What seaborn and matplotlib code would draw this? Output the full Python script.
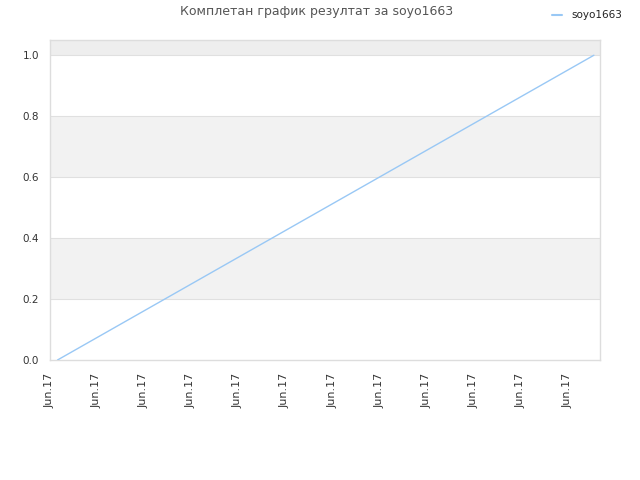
import numpy as np
import pandas as pd
import matplotlib
matplotlib.use("Agg")
import matplotlib.pyplot as plt
import seaborn as sns

# data
player = "soyo1663"
time_pos = [0.16, 11.57]          # position along the time axis (tick units)
progress = [0.0, 1.0]             # completed fraction
tick_pos = list(range(12))
tick_labels = ["Jun.17"] * 12
y_ticks = [0.0, 0.2, 0.4, 0.6, 0.8, 1.0]

df = pd.DataFrame({"t": time_pos, "value": progress, "name": player})

sns.set_style("white")
plt.rcParams["font.family"] = ["DejaVu Sans"]

fig = plt.figure(figsize=(6.4, 4.8), dpi=100)
ax = fig.add_axes([50 / 640, 120 / 480, 550 / 640, 320 / 480])

# alternating background bands
ax.axhspan(1.0, 1.05, color="#eeeeee", zorder=0, lw=0)
for lo in (0.2, 0.6):
    ax.axhspan(lo, lo + 0.2, color="#f2f2f2", zorder=0, lw=0)
for y in y_ticks[1:]:
    ax.axhline(y, color="#e0e0e0", lw=0.8, zorder=1)

sns.lineplot(data=df, x="t", y="value", hue="name", palette=["#99c8f5"],
             lw=1, ax=ax, legend=False, zorder=3)

ax.set_xlim(0, 11.70)
ax.set_ylim(0, 1.05)
ax.set_xticks(tick_pos)
ax.set_xticklabels(tick_labels, rotation=90, fontsize=8, color="#333333")
ax.set_yticks(y_ticks)
ax.set_yticklabels([f"{v:.1f}" for v in y_ticks], fontsize=7.5, color="#333333")
ax.tick_params(axis="x", length=0, pad=9)
ax.tick_params(axis="y", length=0, pad=8)
ax.set_xlabel("")
ax.set_ylabel("")
for s in ax.spines.values():
    s.set_color("#dddddd")
    s.set_linewidth(1)

fig.text(0.495, 0.975, "Комплетан график резултат за " + player, ha="center",
         va="center", fontsize=9, color="#555555")
fig.add_artist(plt.Line2D([552 / 640, 562 / 640], [1 - 15 / 480, 1 - 15 / 480],
                          color="#99c8f5", lw=1.5))
fig.text(571 / 640, 1 - 15 / 480, player, ha="left", va="center",
         fontsize=7.5, color="#222222")

fig.savefig("out.png", dpi=100)
